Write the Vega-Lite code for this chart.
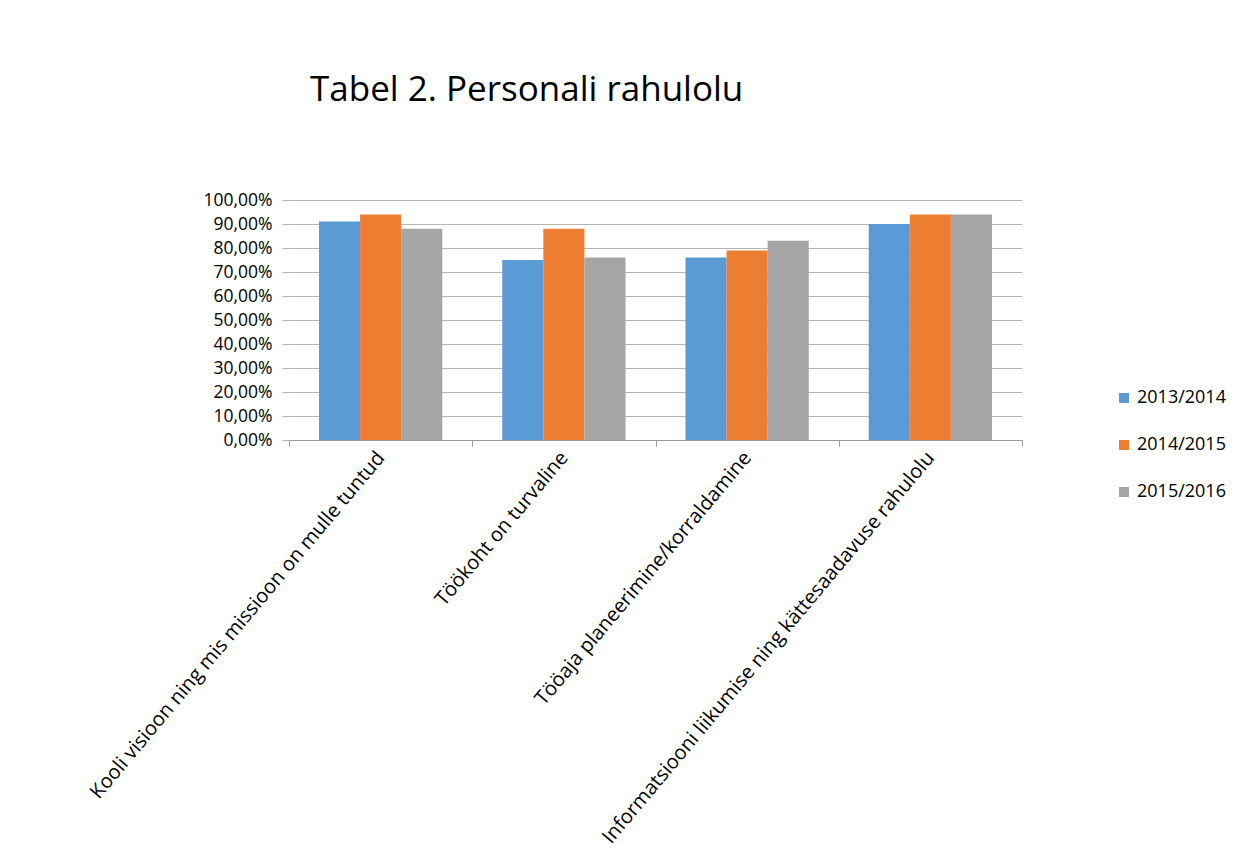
{
  "$schema": "https://vega.github.io/schema/vega-lite/v6.json",
  "autosize": {"type": "none"},
  "padding": {"left": 289, "top": 200, "right": 213, "bottom": 428},
  "width": 733,
  "height": 240,
  "background": "white",
  "title": {
    "text": "Tabel 2. Personali rahulolu",
    "anchor": "start",
    "frame": "group",
    "dx": 21,
    "offset": 55,
    "baseline": "alphabetic",
    "font": "Open Sans",
    "fontSize": 35,
    "fontWeight": "normal",
    "color": "#000000"
  },
  "data": {
    "values": [
      {"kategooria": "Kooli visioon ning mis missioon on mulle tuntud", "aasta": "2013/2014", "vaartus": 0.91},
      {"kategooria": "Kooli visioon ning mis missioon on mulle tuntud", "aasta": "2014/2015", "vaartus": 0.94},
      {"kategooria": "Kooli visioon ning mis missioon on mulle tuntud", "aasta": "2015/2016", "vaartus": 0.88},
      {"kategooria": "Töökoht on turvaline", "aasta": "2013/2014", "vaartus": 0.75},
      {"kategooria": "Töökoht on turvaline", "aasta": "2014/2015", "vaartus": 0.88},
      {"kategooria": "Töökoht on turvaline", "aasta": "2015/2016", "vaartus": 0.76},
      {"kategooria": "Tööaja planeerimine/korraldamine", "aasta": "2013/2014", "vaartus": 0.76},
      {"kategooria": "Tööaja planeerimine/korraldamine", "aasta": "2014/2015", "vaartus": 0.79},
      {"kategooria": "Tööaja planeerimine/korraldamine", "aasta": "2015/2016", "vaartus": 0.83},
      {"kategooria": "Informatsiooni liikumise ning kättesaadavuse rahulolu", "aasta": "2013/2014", "vaartus": 0.90},
      {"kategooria": "Informatsiooni liikumise ning kättesaadavuse rahulolu", "aasta": "2014/2015", "vaartus": 0.94},
      {"kategooria": "Informatsiooni liikumise ning kättesaadavuse rahulolu", "aasta": "2015/2016", "vaartus": 0.94}
    ]
  },
  "mark": {"type": "bar"},
  "encoding": {
    "x": {
      "field": "kategooria",
      "type": "nominal",
      "sort": null,
      "title": null,
      "scale": {"paddingInner": 0, "paddingOuter": 0},
      "axis": {
        "labelAngle": -50,
        "labelAlign": "right",
        "labelBaseline": "middle",
        "labelFont": "Open Sans",
        "labelFontSize": 20,
        "labelColor": "#000000",
        "labelPadding": 8,
        "labelLimit": 600,
        "tickBand": "extent",
        "tickSize": 6,
        "tickColor": "#9a9a9a",
        "domainColor": "#9a9a9a",
        "grid": false
      }
    },
    "xOffset": {
      "field": "aasta",
      "type": "nominal",
      "scale": {"paddingInner": 0, "paddingOuter": 0.73}
    },
    "y": {
      "field": "vaartus",
      "type": "quantitative",
      "title": null,
      "scale": {"domain": [0, 1], "nice": false},
      "axis": {
        "values": [0, 0.1, 0.2, 0.3, 0.4, 0.5, 0.6, 0.7, 0.8, 0.9, 1.0],
        "format": ".2%",
        "labelExpr": "replace(datum.label, '.', ',')",
        "labelFont": "Open Sans",
        "labelFontSize": 17.5,
        "labelColor": "#000000",
        "labelPadding": 10,
        "domain": false,
        "tickSize": 7,
        "tickColor": "#b5b5b5",
        "gridColor": "#b5b5b5",
        "gridWidth": 1.2
      }
    },
    "color": {
      "field": "aasta",
      "type": "nominal",
      "title": null,
      "scale": {
        "domain": ["2013/2014", "2014/2015", "2015/2016"],
        "range": ["#5B9BD5", "#ED7D31", "#A5A5A5"]
      },
      "legend": {
        "orient": "none",
        "legendX": 826,
        "legendY": 189,
        "symbolType": "square",
        "symbolSize": 100,
        "symbolStrokeWidth": 0,
        "labelFont": "Open Sans",
        "labelFontSize": 18,
        "labelColor": "#000000",
        "rowPadding": 29,
        "labelOffset": 4
      }
    }
  },
  "config": {
    "view": {"stroke": null}
  }
}
